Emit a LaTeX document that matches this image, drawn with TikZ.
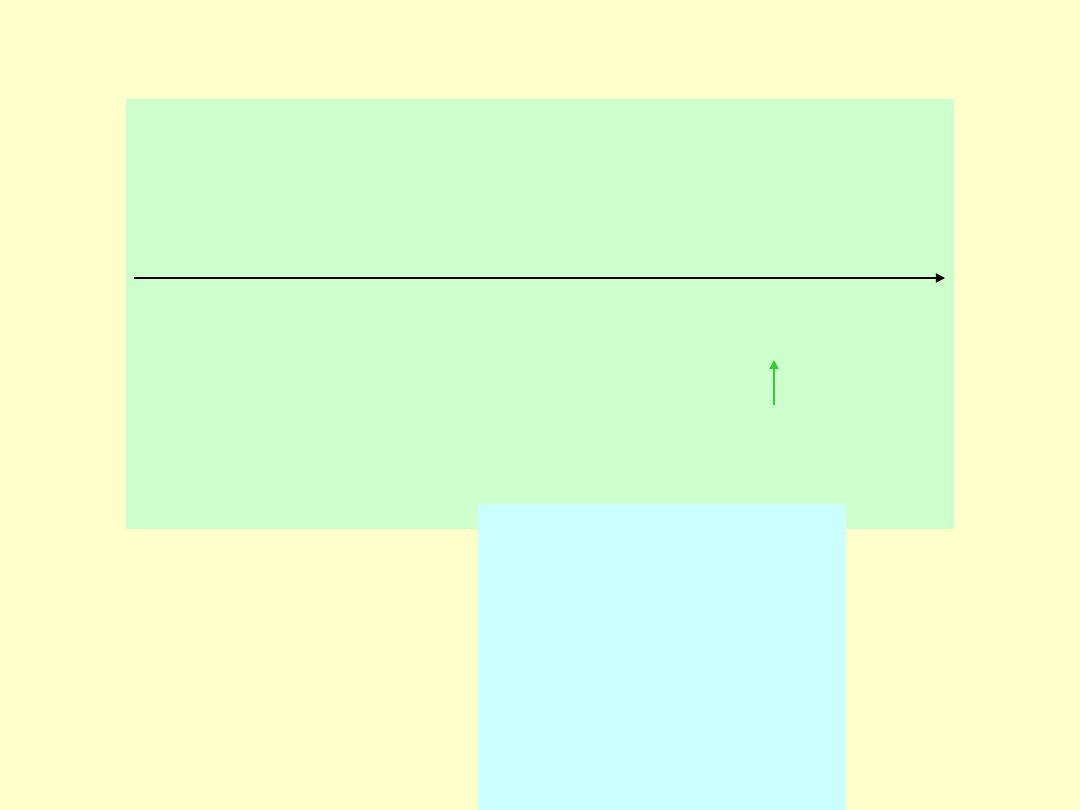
\documentclass[tikz,border=0pt]{standalone}
\usetikzlibrary{positioning, arrows.meta}
\definecolor{paleyellow}{HTML}{FFFFCC}
\definecolor{palegreen}{HTML}{CCFFCC}
\definecolor{palecyan}{HTML}{CCFFFF}
\definecolor{arrowgreen}{HTML}{33CC33}
\begin{document}
\begin{tikzpicture}[
    x=0.025cm, y=-0.025cm,
    % Stili per i riquadri
    panel/.style={rectangle, draw=none, inner sep=0pt, anchor=north west},
    greenpanel/.style={panel, fill=palegreen, minimum width=828*0.025cm, minimum height=430*0.025cm},
    cyanpanel/.style={panel, fill=palecyan, minimum width=368*0.025cm, minimum height=306*0.025cm},
    % Stili per le frecce
    flow/.style={-{Triangle[length=6.5pt, width=6.5pt]}, line width=1.1pt},
    axisflow/.style={flow, draw=black},
    greenflow/.style={flow, draw=arrowgreen, fill=arrowgreen}
]

% === SFONDO ===
\fill[paleyellow] (0,0) rectangle (1080,810);
\useasboundingbox (0,0) rectangle (1080,810);

% === RIQUADRI ===
\node[greenpanel] (upper) at (126,99) {};
\node[cyanpanel] (lower) at (478,504) {};

% === FRECCE ===
\coordinate (axisstart) at (134,278);
\coordinate (axisend) at (945,278);
\draw[axisflow] (axisstart) -- (axisend);

\coordinate (markfoot) at (774,405);
\coordinate (markhead) at (774,360);
\draw[greenflow] (markfoot) -- (markhead);

\end{tikzpicture}
\end{document}
